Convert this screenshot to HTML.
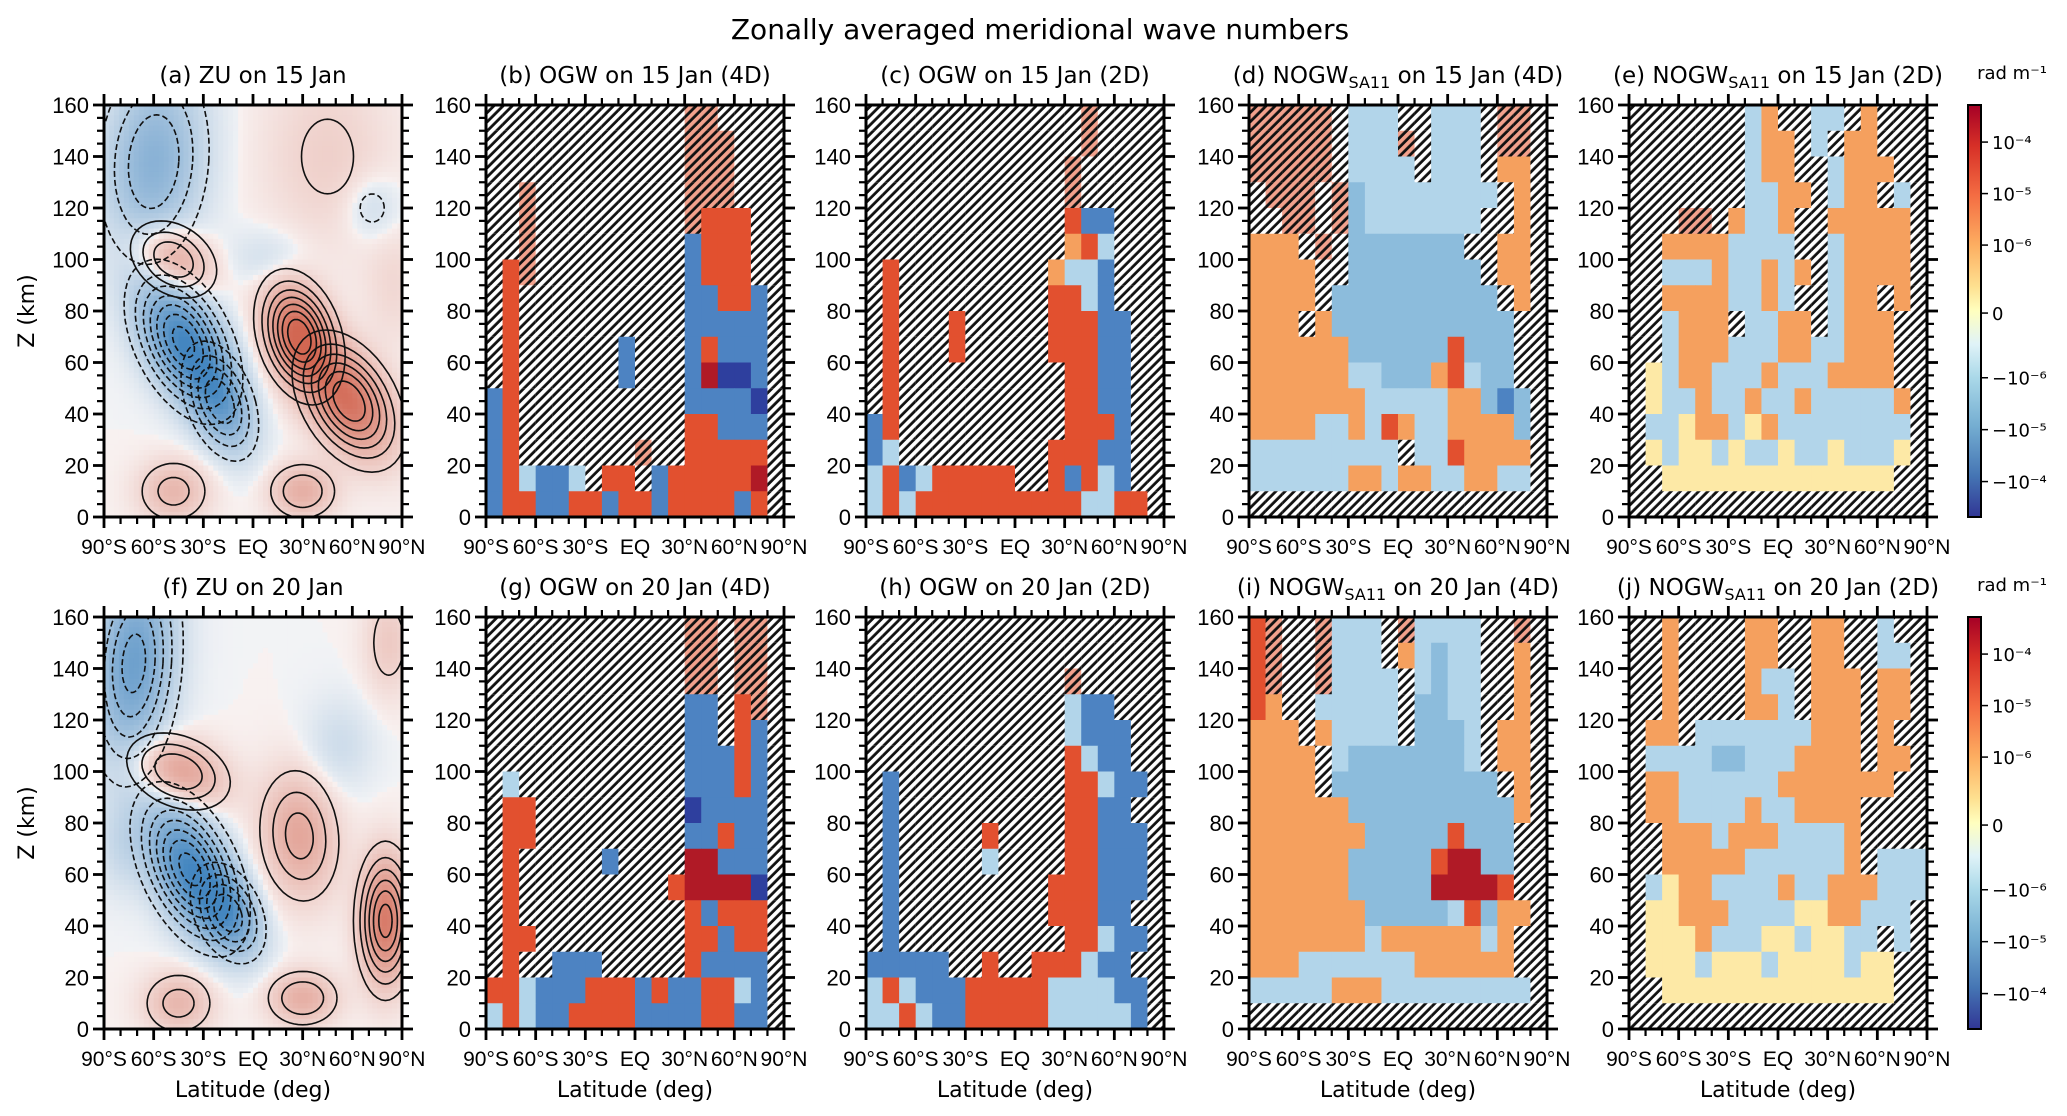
<!DOCTYPE html>
<html><head><meta charset="utf-8">
<style>
html,body{margin:0;padding:0;background:#fff;}
svg{display:block;font-family:"DejaVu Sans","Liberation Sans",sans-serif;}
.tk{font-family:"Liberation Sans","DejaVu Sans",sans-serif;}
</style></head>
<body>
<svg id="fig" xmlns="http://www.w3.org/2000/svg" width="2067" height="1116" viewBox="0 0 2067 1116">
<defs>
<pattern id="hatch" width="6.5" height="6.5" patternUnits="userSpaceOnUse" patternTransform="rotate(45)">
<line x1="1.6" y1="0" x2="1.6" y2="6.5" stroke="#111" stroke-width="2.8"/>
</pattern>
<linearGradient id="cbgrad" x1="0" y1="0" x2="0" y2="1">
<stop offset="0" stop-color="#a50026"/><stop offset="0.1" stop-color="#d73027"/><stop offset="0.22" stop-color="#f46d43"/><stop offset="0.34" stop-color="#fdae61"/><stop offset="0.44" stop-color="#fee090"/><stop offset="0.5" stop-color="#ffffbf"/><stop offset="0.58" stop-color="#e0f3f8"/><stop offset="0.66" stop-color="#abd9e9"/><stop offset="0.78" stop-color="#74add1"/><stop offset="0.9" stop-color="#4575b4"/><stop offset="1" stop-color="#313695"/>
</linearGradient>
</defs>
<text x="1040" y="39" font-size="28" text-anchor="middle">Zonally averaged meridional wave numbers</text>
<g id="plots"></g>
</svg>
<script>
// ---- data ----
const latTicks = [-90,-60,-30,0,30,60,90];
const latTickLabels = ["90°S","60°S","30°S","EQ","30°N","60°N","90°N"];
const zTicks = [0,20,40,60,80,100,120,140,160];
const cbTickLabels = ["10⁻⁴","10⁻⁵","10⁻⁶","0","−10⁻⁶","−10⁻⁵","−10⁻⁴"];
const cbTickFrac = [0.09,0.215,0.34,0.505,0.662,0.788,0.914];

// ZU blobs (lat, z, amplitude m/s, width lat, width z, tilt)
const zuA_lat  = [-60,-48,-42,-20, 28, 58, 45, 72, 10,-48, 30, 85];
const zuA_z    = [138,100, 68, 45, 70, 45,140,120,100, 10, 10, 90];
const zuA_amp  = [-40, 40,-75,-50, 80, 70, 12,-12,-10, 25, 30,  8];
const zuA_wlat = [ 20, 15, 16, 12, 13, 16, 26, 12, 16, 14, 13, 12];
const zuA_wz   = [ 24,  9, 16, 13, 13, 14, 24,  9,  8,  8,  7, 16];
const zuA_tilt = [0.1,-0.5,-0.5,-0.4,-0.3,-0.5, 0, 0, 0, 0, 0, 0];

const zuF_lat  = [-72,-45,-38,-15, 28, 80, 82,-45, 30, 52,-80];
const zuF_z    = [142,100, 62, 45, 75, 42,150, 10, 12,110, 70];
const zuF_amp  = [-55, 40,-75,-50, 35, 65, 15, 25, 30,-10,-10];
const zuF_wlat = [ 16, 18, 16, 12, 15, 10, 10, 14, 14, 14, 10];
const zuF_wz   = [ 26,  9, 17, 11, 16, 16, 14,  8,  7, 12, 12];
const zuF_tilt = [0.1,-0.6,-0.5,-0.4,-0.1, 0, 0, 0, 0, 0, 0];

// Heatmap categories per 10deg x 10km cell, rows from 160 km down to 0 km
const gridB = [
"............HH....","............HHH...","............HHH...","..H.........HHH...",
"..H.........Hrrr..","..H.........brrr..",".rH.........brrr..",".r..........bbrrb.",
".r..........bbbbb.",".r......b...brbbb.",".r......b...bRBBb.","br..........bbbbB.",
"br..........rrbbb.","br.......H..rrrrr.","brlbbl.rr.brrrrrR.","brrbbrrbrrbrrrrbr."];
const gridC = [
".............H....",".............H....","............H.....","............H.....",
"............rbb...","............orl...",".r.........ollb...",".r.........rrlb...",
".r...r.....rrrbb..",".r...r.....rrrbb..",".r..........rrbb..",".r..........rrbb..",
"br..........rrrb..","bl.........rrrbb..","lrblrrrrr..rbrlb..","lrlrrrrrrrrrrllrr."];
const gridD = [
"HHHHH.lll..lll.HH.","HHHHH.lllH.lll.HH.","HHHHH.llll.lll.oo.",".HHH.HLllllllll.o.",
"..HH.HLlllllll..o.","ooo.H.LLLLLLL..oo.","oooo..LLLLLLLL.oo.","oooo.LLLLLLLLLL.o.",
"ooo.oLLLLLLLLLLL..","ooooooLLLLLLrLLL..","oooooollLLLorlLL..","ooooooolllllooLbL.",
"oooollolrollooooL.","lllllllll.llroooo.","llllllooloollooll.",".................."];
const gridE = [
".......lo..ll.o...",".......loo.l.oo...",".......loo..looo..",".......lloo.loo.l.",
"...HH.ollo..ooooo.","..oooollll..loooo.","..lllollolo.loooo.","..oooollol..loo.o.",
"..looo.lloo.looo..","..looollloollooo..",".yloolllollloooo..",".yllollollolllllo.",
".llyoolyollllllll.",".ylyylyllyllyllly.","..yyyyyyyyyyyyyy..",".................."];
const gridG = [
"............HH.HH.","............HH.HH.","............HH.HH.","............bb.rH.",
"............bb.rb.","............bbbrb.",".l..........bbbrb.",".rr.........Bbbbb.",
".rr.........bbrbb.",".r.....b....RRbbb.",".r.........rRRRRB.",".r..........rbrrr.",
".rr.........rrbrr.",".r..bbb.....rbbbb.","rrlbbbrrrbrbbrrlb.","lrlbbrrrrbbbbrrbb."];
const gridH = [
"..................","..................","............H.....","............lbb...",
"............lbbb..","............rlbb..",".b..........rrlbb.",".b..........rrbb..",
".b.....r....rrbbb.",".b.....l....rrbbb.",".b.........rrrbbb.",".b.........rrrbb..",
".b..........rrlbb.","bbbbb..r..rrrlbb..","lrlbbbrrrrrllllbb.","llrlbbrrrrrlllllb."];
const gridI = [
"rH..Hlll.Hllll..H.","rH..Hlll.olLll..o.","rH..Hllll.lLll..o.","ro..lllll.LLll..o.",
"ooo.ollll.LLLl.oo.","oooo.lLLLLLLLl.oo.","oooo.LLLLLLLLLL.o.","ooooooLLLLLLLLLLo.",
"oooooooLLLLLrLLL..","ooooooLLLLLrRRLL..","ooooooLLLLLRRRRr..","oooooooLLLLLlrLoo.",
"oooooooloooooolo..","ooollllllloooooo..","lllllooolllllllll.",".................."];
const gridJ = [
"..o....oo..oo..l..","..o....oo..oo..ll.","..o....oll.ooo.oo.","..o....ool.ooo.oo.",
".oo.lllllllooo.o..",".llllLLllloooo.oo.",".oollllllooooooo..",".oollllolloooo....",
"..ooolooollllo....","..ooooollllllo.lll",".lyoollllollooolll",".yyooollllyyoolll.",
".yyyolllyylyyll.l.",".yyylyyylyyyylyy..","..yyyyyyyyyyyyyy..",".................."];

// ---- style ----
const catColor = {'.':'#ffffff','H':'#f2a18c','r':'#e2502f','R':'#b01a26','o':'#f5a05e','y':'#fde9a6',
  'b':'#4d83c2','B':'#2e3f9e','l':'#b2d5ea','L':'#8cbcdc'};
const LEFTS=[104,486,866,1249,1629], PW=298, TOPS=[105,617], PH=412;
const NS='http://www.w3.org/2000/svg';
const root=document.getElementById('plots');
function mk(tag,attrs,parent){const e=document.createElementNS(NS,tag);for(const k in attrs)e.setAttribute(k,attrs[k]);(parent||root).appendChild(e);return e;}

function axes(L,T){
  return {x:lat=>L+(lat+90)/180*PW, y:z=>T+(160-z)/160*PH};
}

function zuColor(v){
  const t=Math.max(-1,Math.min(1,v/80));
  let c0=[250,248,248], c1 = t>0?[205,85,62]:[45,120,185];
  const a=Math.pow(Math.abs(t),0.75)*0.85+0.04;
  const c=c0.map((v0,i)=>Math.round(v0+(c1[i]-v0)*a));
  return 'rgb('+c.join(',')+')';
}

function drawZU(g,L,T,lats,zs,amps,wl,wz,tl,name){
  const ax=axes(L,T);
  const field=(lat,z)=>{let s=0;for(let i=0;i<lats.length;i++){const v=(z-zs[i])/wz[i];const u=(lat-lats[i]-tl[i]*(z-zs[i]))/wl[i];s+=amps[i]*Math.exp(-(u*u+v*v)/2);}return s;};
  const nc=60,nr=80;
  const cw=PW/nc, ch=PH/nr;
  for(let j=0;j<nr;j++)for(let i=0;i<nc;i++){
    const lat=-90+(i+0.5)*180/nc, z=160-(j+0.5)*160/nr;
    mk('rect',{x:(L+i*cw).toFixed(2),y:(T+j*ch).toFixed(2),width:(cw+0.6).toFixed(2),height:(ch+0.6).toFixed(2),fill:zuColor(field(lat,z))},g);
  }
  const cg=mk('g',{'clip-path':'url(#clip'+name+')'},g);
  for(let i=0;i<lats.length;i++){
    const A=Math.abs(amps[i]);
    for(let lev=10;lev<A;lev+=10){
      const r=Math.sqrt(2*Math.log(A/lev));
      let d='';
      for(let k=0;k<=48;k++){const th=k/48*2*Math.PI;const v=r*Math.sin(th),u=r*Math.cos(th);
        const z=zs[i]+wz[i]*v, lat=lats[i]+tl[i]*(z-zs[i])+wl[i]*u;
        d+=(k?'L':'M')+ax.x(lat).toFixed(1)+','+ax.y(z).toFixed(1);}
      const p=mk('path',{d:d,fill:'none',stroke:'#111','stroke-width':1.6},cg);
      if(amps[i]<0)p.setAttribute('stroke-dasharray','6,3');
      
      
    }
  }
}

function drawGrid(g,L,T,grid){
  const cw=PW/18, ch=PH/16;
  grid.forEach((row,j)=>{
    for(let i=0;i<18;i++){
      const c=row[i]||'.';
      const r=mk('rect',{x:(L+i*cw).toFixed(2),y:(T+j*ch).toFixed(2),width:(cw+0.5).toFixed(2),height:(ch+0.5).toFixed(2),fill:catColor[c]},g);
      
      
      if(c==='.'||c==='H'){
        mk('rect',{x:(L+i*cw).toFixed(2),y:(T+j*ch).toFixed(2),width:(cw+0.5).toFixed(2),height:(ch+0.5).toFixed(2),fill:'url(#hatch)'},g);
      }
    }
  });
}

function frame(g,L,T,row,col,titleHTML){
  const ax=axes(L,T);
  mk('rect',{x:L,y:T,width:PW,height:PH,fill:'none',stroke:'#000','stroke-width':3},g);
  for(let lat=-90;lat<=90;lat+=10){
    const maj=lat%30===0, len=maj?11:7, x=ax.x(lat);
    mk('line',{x1:x,y1:T+PH,x2:x,y2:T+PH+len,stroke:'#000','stroke-width':maj?2.8:2.2},g);
    mk('line',{x1:x,y1:T,x2:x,y2:T-len,stroke:'#000','stroke-width':maj?2.8:2.2},g);
  }
  for(let z=0;z<=160;z+=5){
    const maj=z%20===0, len=maj?11:7, y=ax.y(z);
    mk('line',{x1:L,y1:y,x2:L-len,y2:y,stroke:'#000','stroke-width':maj?2.8:2.2},g);
    mk('line',{x1:L+PW,y1:y,x2:L+PW+len,y2:y,stroke:'#000','stroke-width':maj?2.8:2.2},g);
  }
  latTicks.forEach((lat,i)=>{
    const t=mk('text',{x:ax.x(lat),y:T+PH+37,'font-size':21,'text-anchor':'middle',class:'tk'},g);
    t.textContent=latTickLabels[i];
    
    
  });
  zTicks.forEach(z=>{
    const t=mk('text',{x:L-15,y:ax.y(z)+8,'font-size':22,'text-anchor':'end',class:'tk'},g);
    t.textContent=z;
    
    
  });
  const tt=mk('text',{x:L+PW/2,y:T-22,'font-size':23,'text-anchor':'middle'},g);
  tt.innerHTML=titleHTML;
  
  
  if(row===1){
    const xl=mk('text',{x:L+PW/2,y:T+PH+68,'font-size':22,'text-anchor':'middle'},g);
    xl.textContent='Latitude (deg)';
    
    
  }
  if(col===0){
    const yl=mk('text',{x:0,y:0,'font-size':22,'text-anchor':'middle',transform:'translate(34,'+(T+PH/2)+') rotate(-90)'},g);
    yl.textContent='Z (km)';
    
    
  }
}

const defs=document.querySelector('defs');
const sub=s=>'<tspan font-size="16" dy="5">'+s+'</tspan><tspan dy="-5"> </tspan>';
const titles=[
 ['(a) ZU on 15 Jan','(b) OGW on 15 Jan (4D)','(c) OGW on 15 Jan (2D)','(d) NOGW'+sub('SA11')+'on 15 Jan (4D)','(e) NOGW'+sub('SA11')+'on 15 Jan (2D)'],
 ['(f) ZU on 20 Jan','(g) OGW on 20 Jan  (4D)','(h) OGW on 20 Jan (2D)','(i) NOGW'+sub('SA11')+'on 20 Jan (4D)','(j) NOGW'+sub('SA11')+'on 20 Jan (2D)']];
const grids=[[null,gridB,gridC,gridD,gridE],[null,gridG,gridH,gridI,gridJ]];
const letters='abcdefghij';

for(let r=0;r<2;r++)for(let c=0;c<5;c++){
  const L=LEFTS[c],T=TOPS[r],name=letters[r*5+c];
  const cp=mk('clipPath',{id:'clip'+name},defs);
  mk('rect',{x:L,y:T,width:PW,height:PH},cp);
  const g=mk('g',{});
  
  
  if(c===0){
    if(r===0)drawZU(g,L,T,zuA_lat,zuA_z,zuA_amp,zuA_wlat,zuA_wz,zuA_tilt,name);
    else drawZU(g,L,T,zuF_lat,zuF_z,zuF_amp,zuF_wlat,zuF_wz,zuF_tilt,name);
  } else drawGrid(g,L,T,grids[r][c]);
  frame(g,L,T,r,c,titles[r][c]);
}

// colorbars
TOPS.forEach((T,r)=>{
  const g=mk('g',{});
  
  
  mk('rect',{x:1968,y:T,width:13,height:PH,fill:'url(#cbgrad)',stroke:'#000','stroke-width':2},g);
  cbTickFrac.forEach((f,i)=>{
    const y=T+f*PH;
    mk('line',{x1:1981,y1:y,x2:1988,y2:y,stroke:'#000','stroke-width':1.5},g);
    const t=mk('text',{x:1992,y:y+7,'font-size':18},g);
    t.textContent=cbTickLabels[i];
    
    
  });
  const u=mk('text',{x:2012,y:T-26,'font-size':18,'text-anchor':'middle'},g);
  u.textContent='rad m⁻¹';
  
  
});
</script>
</body></html>
